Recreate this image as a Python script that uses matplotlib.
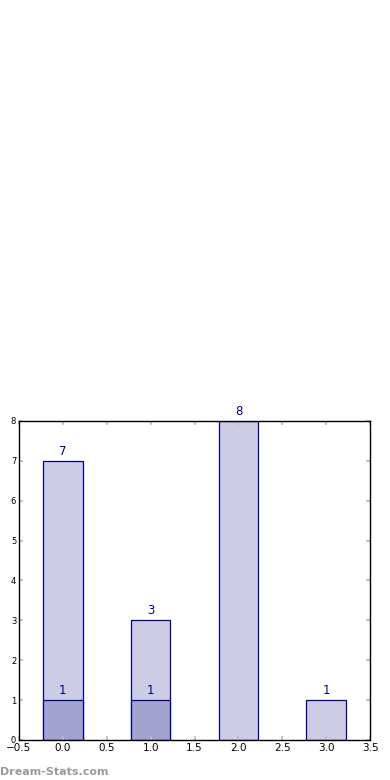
import matplotlib.pyplot as plt
import numpy as np

# datos
positions = [0, 1, 2, 3]
totals = [7, 3, 8, 1]
subset = [1, 1, 0, 0]
xticks = [-0.5, 0.0, 0.5, 1.0, 1.5, 2.0, 2.5, 3.0, 3.5]
yticks = [0, 1, 2, 3, 4, 5, 6, 7, 8]

fig = plt.figure(figsize=(3.9, 7.8), dpi=100)
ax = fig.add_axes([0.0487, 0.0513, 0.9003, 0.409])

edge = '#00008b'
ax.bar(positions, totals, width=0.45, color='#ccccE5', edgecolor=edge, linewidth=0.9)
sub_pos = [p for p, s in zip(positions, subset) if s > 0]
sub_val = [s for s in subset if s > 0]
ax.bar(sub_pos, sub_val, width=0.45, color='#a3a3d0', edgecolor=edge, linewidth=0.9)

for p, t in zip(positions, totals):
    ax.text(p, t + 0.08, str(t), ha='center', va='bottom', color=edge, fontsize=8.5)
for p, s in zip(sub_pos, sub_val):
    ax.text(p, s + 0.08, str(s), ha='center', va='bottom', color=edge, fontsize=8.5)

ax.set_xlim(-0.5, 3.5)
ax.set_ylim(0, 8)
ax.set_xticks(xticks)
ax.set_yticks(yticks)
ax.set_xticklabels([f'{v:.1f}' if v >= 0 else '\u22120.5' for v in xticks], fontsize=7.5)
ax.set_yticklabels([str(v) for v in yticks], fontsize=6)
ax.tick_params(direction='in', length=3, color='#bbbbbb', width=1.2,
               top=True, right=True, pad=2)
for s in ax.spines.values():
    s.set_linewidth(1.0)

fig.text(0.0, 0.004, 'Dream-Stats.com', color='#999999', fontsize=8,
         fontweight='bold', ha='left', va='bottom')

fig.savefig('out.png', dpi=100)
